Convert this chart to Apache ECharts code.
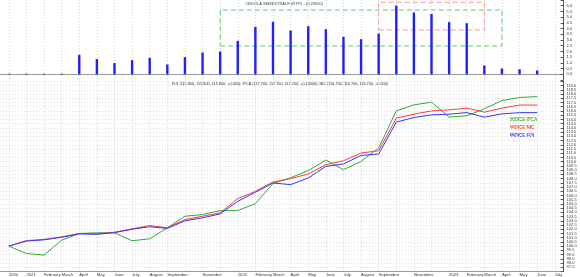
<!DOCTYPE html>
<html><head><meta charset="utf-8">
<script src="https://cdn.jsdelivr.net/npm/echarts@6/dist/echarts.min.js"></script>
<style>html,body{margin:0;padding:0;background:#fff}#c{width:580px;height:277px}</style>
</head><body><div id="c"></div>
<script>
// Category labels (Dec 2020 .. Jun 2023) plus one trailing label
const months = ['2020','2021','February','March','April','May','June','July','August','September','','November','','2022','February','March','April','May','June','July','August','September','','November','','2023','February','March','April','May','June'];
const trailingLabel = 'July';
// Top panel: bars
const cedola = [0.05,0.05,0.05,0.05,1.70,1.33,0.98,1.24,1.44,0.86,1.50,1.90,1.99,2.93,4.15,4.59,3.83,4.21,3.95,3.28,3.07,3.56,6.01,5.40,5.28,4.56,4.47,0.77,0.51,0.45,0.33];
// Bottom panel: indices (rebased)
const ipca = [100.0,99.14,98.94,100.71,101.5,101.58,101.58,100.64,100.87,102.17,103.54,103.74,104.21,104.21,105.04,107.4,108.1,108.93,110.19,109.05,110.03,111.61,116.01,116.72,117.04,115.27,115.42,116.25,117.23,117.6,117.7];
const nic  = [100.0,100.67,100.79,101.11,101.5,101.46,101.65,102.05,102.44,102.17,103.15,103.54,103.94,105.63,106.49,107.6,107.99,108.54,109.64,110.11,111.02,111.29,115.15,115.62,116.01,116.13,116.33,115.86,116.33,116.7,116.7];
const foi  = [100.0,100.6,100.75,101.05,101.45,101.4,101.6,102.0,102.3,102.1,103.0,103.35,103.82,105.31,106.37,107.48,107.28,108.07,109.44,109.72,110.74,110.9,114.68,115.22,115.54,115.62,115.81,115.27,115.66,115.8,115.8];
// Annotation boxes in data coordinates [startIndex, endIndex, high, low]
const greenBox = [12, 28, 5.63, 2.48];
const redBox = [21, 27, 6.3, 3.88];
const topTitle = '\u00b7 CEDOLA SEMESTRALE (BTPi) - (0.29000)';
const bottomTitle = 'FOI (115.800, 115.800, 115.800, +0.000); IPCA (117.700, 117.700, 117.700, +0.10000); NIC (116.700, 116.700, 116.700, +0.000)';
const legendNames = ['INDICE IPCA','INDICE NIC','INDICE FOI'];

const FONT = 'Liberation Sans';
const cats = months.concat([trailingLabel]);
const colors = {ipca:'#33a833', nic:'#ff3b3b', foi:'#3535ff', bar:'#1f1fff'};
const gridLeft = -0.5, gridRight = 16.4;

const chart = echarts.init(document.getElementById('c'), null, {renderer:'canvas'});
const box = (b, col) => [{coord:[b[0], b[2]], itemStyle:{color:'rgba(0,0,0,0)', borderColor:col, borderWidth:1, borderType:[5,3]}}, {coord:[b[1], b[3]]}];

chart.setOption({
  animation:false,
  backgroundColor:'#fff',
  grid:[
    {left:gridLeft, right:gridRight, top:0, height:80},
    {left:gridLeft, right:gridRight, top:81.4, bottom:4.9}
  ],
  xAxis:[
    {type:'category', gridIndex:0, data:cats, boundaryGap:true,
     axisLine:{show:true, lineStyle:{color:'#9a9a9a', width:1}}, axisTick:{show:false, alignWithLabel:true, interval:0}, axisLabel:{show:false, interval:0},
     splitLine:{show:true, alignWithLabel:true, interval:0, lineStyle:{color:'#d4d4d4', type:[1,2], width:1}}},
    {type:'category', gridIndex:1, data:cats, boundaryGap:true,
     axisLine:{show:true, lineStyle:{color:'#9a9a9a', width:1}}, axisTick:{show:false, alignWithLabel:true, interval:0},
     axisLabel:{show:true, interval:0, align:'left', margin:1.5, fontSize:4.2, fontFamily:FONT, color:'#333'},
     splitLine:{show:true, alignWithLabel:true, interval:0, lineStyle:{color:'#d4d4d4', type:[1,2], width:1}}}
  ],
  yAxis:[
    {type:'value', gridIndex:0, position:'right', min:-0.5, max:6.5, interval:0.5,
     axisLine:{show:true, lineStyle:{color:'#555', width:1}},
     axisTick:{show:true, inside:true, length:3, lineStyle:{color:'#555'}},
     axisLabel:{margin:3, fontSize:4, fontFamily:FONT, color:'#333', formatter:v => (v < 0 || v > 6) ? '' : v.toFixed(1)},
     splitLine:{show:false}},
    {type:'value', gridIndex:1, position:'right', min:97, max:119.5, interval:0.5,
     axisLine:{show:true, lineStyle:{color:'#555', width:1}},
     axisTick:{show:true, inside:true, length:3, lineStyle:{color:'#555'}},
     axisLabel:{margin:3, fontSize:4, fontFamily:FONT, color:'#333', formatter:v => (v <= 97 || v >= 119.5) ? '' : v.toFixed(1)},
     splitLine:{show:true, lineStyle:{color:'#dedede', type:[1,2], width:1}}}
  ],
  series:[
    {type:'bar', xAxisIndex:0, yAxisIndex:0, data:cedola, barWidth:2.4, itemStyle:{color:colors.bar},
     markArea:{silent:true, data:[box(greenBox, '#66cc66'), box(redBox, '#ff9a9a')]}},
    {type:'line', xAxisIndex:1, yAxisIndex:1, data:ipca, symbol:'none', lineStyle:{color:colors.ipca, width:1}, itemStyle:{color:colors.ipca}},
    {type:'line', xAxisIndex:1, yAxisIndex:1, data:nic, symbol:'none', lineStyle:{color:colors.nic, width:1}, itemStyle:{color:colors.nic}},
    {type:'line', xAxisIndex:1, yAxisIndex:1, data:foi, symbol:'none', lineStyle:{color:colors.foi, width:1}, itemStyle:{color:colors.foi}}
  ],
  graphic:[
    {type:'text', left:243, top:2, style:{text:topTitle, fill:'#444', font:'4px "'+FONT+'"'}},
    {type:'text', left:172, top:82, style:{text:bottomTitle, fill:'#333', font:'3.8px "'+FONT+'"'}},
    {type:'text', left:510, top:117.5, style:{text:legendNames[0], fill:colors.ipca, font:'bold 4.5px "'+FONT+'"'}},
    {type:'text', left:510, top:125.5, style:{text:legendNames[1], fill:colors.nic, font:'bold 4.5px "'+FONT+'"'}},
    {type:'text', left:510, top:133.5, style:{text:legendNames[2], fill:colors.foi, font:'bold 4.5px "'+FONT+'"'}}
  ]
});
</script></body></html>
